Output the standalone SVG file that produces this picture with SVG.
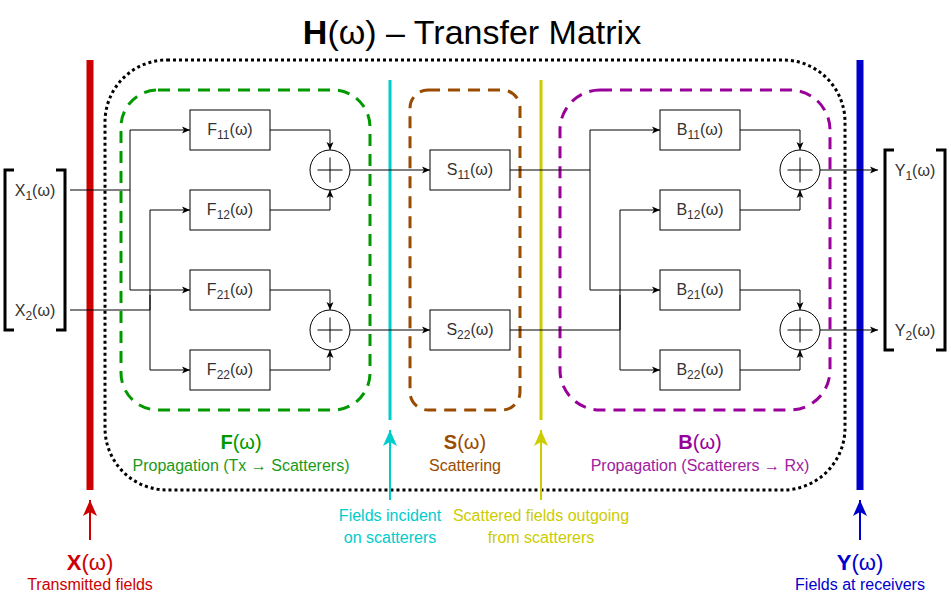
<svg xmlns="http://www.w3.org/2000/svg" width="951" height="601" viewBox="0 0 951 601">
<style>
text{font-family:"Liberation Sans",Arial,sans-serif}
.box{fill:#fff;stroke:#000;stroke-width:1}
.lbl{font-size:16px;fill:#333;text-anchor:middle}
.sub{font-size:12px}
.wire{fill:none;stroke:#000;stroke-width:1}
.arr{marker-end:url(#ah)}
.sum{fill:#fff;stroke:#000;stroke-width:1}
.grp{fill:none;stroke-width:3;stroke-dasharray:12 8}
.brk{fill:none;stroke:#000;stroke-width:3}
.t1{font-size:20px;text-anchor:middle}
.t2{font-size:16px;text-anchor:middle}
.t3{font-size:22px;text-anchor:middle}
</style>
<defs>
<marker id="ah" markerUnits="userSpaceOnUse" markerWidth="8" markerHeight="8" viewBox="0 0 8 8" refX="8" refY="4" orient="auto"><path d="M0,0.5 L8,4 L0,7.5 L2,4 z" fill="#000"/></marker>
<marker id="ar" markerUnits="userSpaceOnUse" markerWidth="16" markerHeight="14" viewBox="0 0 16 14" refX="16" refY="7" orient="auto"><path d="M0,0 L16,7 L0,14 L4,7 z" fill="#CC0000"/></marker>
<marker id="ac" markerUnits="userSpaceOnUse" markerWidth="16" markerHeight="14" viewBox="0 0 16 14" refX="16" refY="7" orient="auto"><path d="M0,0 L16,7 L0,14 L4,7 z" fill="#00CCCC"/></marker>
<marker id="ay" markerUnits="userSpaceOnUse" markerWidth="16" markerHeight="14" viewBox="0 0 16 14" refX="16" refY="7" orient="auto"><path d="M0,0 L16,7 L0,14 L4,7 z" fill="#CCCC00"/></marker>
<marker id="ab" markerUnits="userSpaceOnUse" markerWidth="16" markerHeight="14" viewBox="0 0 16 14" refX="16" refY="7" orient="auto"><path d="M0,0 L16,7 L0,14 L4,7 z" fill="#0000CC"/></marker>
</defs>
<rect width="951" height="601" fill="#fff"/>

<g id="title"><text x="472" y="44" font-size="34" text-anchor="middle" fill="#000"><tspan font-weight="bold">H</tspan>(ω) – Transfer Matrix</text></g>

<g id="H-container"><rect x="105" y="60" width="740" height="430" rx="62" fill="none" stroke="#000" stroke-width="3" stroke-dasharray="3 3"/></g>
<g id="F-group"><rect class="grp" x="121" y="90" width="249" height="320" rx="37" stroke="#009900"/>
<text class="t1" x="241" y="449" fill="#009900"><tspan font-weight="bold">F</tspan>(ω)</text>
<text class="t2" x="241" y="471" fill="#1a9a1a">Propagation (Tx → Scatterers)</text></g>
<g id="S-group"><rect class="grp" x="410" y="90" width="110" height="320" rx="18" stroke="#994C00"/>
<text class="t1" x="465" y="449" fill="#994C00"><tspan font-weight="bold">S</tspan>(ω)</text>
<text class="t2" x="465" y="471" fill="#994C00">Scattering</text></g>
<g id="B-group"><rect class="grp" x="560" y="90" width="270" height="320" rx="40" stroke="#990099"/>
<text class="t1" x="700" y="449" fill="#990099"><tspan font-weight="bold">B</tspan>(ω)</text>
<text class="t2" x="700" y="471" fill="#a020a0">Propagation (Scatterers → Rx)</text></g>

<g id="X-bar"><rect x="86.5" y="60" width="7" height="430" fill="#CC0000"/>
<text class="t3" x="90" y="570" fill="#CC0000"><tspan font-weight="bold">X</tspan>(ω)</text>
<text class="t2" x="90" y="590" fill="#CC0000">Transmitted fields</text></g>
<g id="Y-bar"><rect x="856.5" y="60" width="7" height="430" fill="#0000CC"/>
<text class="t3" x="860" y="570" fill="#0000CC"><tspan font-weight="bold">Y</tspan>(ω)</text>
<text class="t2" x="860" y="590" fill="#0000CC">Fields at receivers</text></g>
<g id="incident-plane"><line x1="390" y1="80" x2="390" y2="420" stroke="#00CCCC" stroke-width="3"/>
<text class="t2" x="390" y="521" fill="#00CCCC">Fields incident</text>
<text class="t2" x="390" y="543" fill="#00CCCC">on scatterers</text></g>
<g id="outgoing-plane"><line x1="541" y1="80" x2="541" y2="420" stroke="#CCCC00" stroke-width="3"/>
<text class="t2" x="541" y="521" fill="#CCCC00">Scattered fields outgoing</text>
<text class="t2" x="541" y="543" fill="#CCCC00">from scatterers</text></g>

<g id="X-vector"><path class="brk" d="M14,170 H5 V330 H14 M56,170 H65 V330 H56"/>
<text class="lbl" x="35" y="195.5">X<tspan class="sub" dy="4">1</tspan><tspan dy="-4">(ω)</tspan></text>
<text class="lbl" x="35" y="315.5">X<tspan class="sub" dy="4">2</tspan><tspan dy="-4">(ω)</tspan></text></g>
<g id="Y-vector"><path class="brk" d="M894,150 H885 V350 H894 M936,150 H945 V350 H936"/>
<text class="lbl" x="915" y="175.5">Y<tspan class="sub" dy="4">1</tspan><tspan dy="-4">(ω)</tspan></text>
<text class="lbl" x="915" y="335.5">Y<tspan class="sub" dy="4">2</tspan><tspan dy="-4">(ω)</tspan></text></g>

<g id="F11"><rect class="box" x="190" y="110" width="80" height="40"/><text class="lbl" x="230" y="135">F<tspan class="sub" dy="4">11</tspan><tspan dy="-4">(ω)</tspan></text></g>
<g id="F12"><rect class="box" x="190" y="190" width="80" height="40"/><text class="lbl" x="230" y="215">F<tspan class="sub" dy="4">12</tspan><tspan dy="-4">(ω)</tspan></text></g>
<g id="F21"><rect class="box" x="190" y="270" width="80" height="40"/><text class="lbl" x="230" y="295">F<tspan class="sub" dy="4">21</tspan><tspan dy="-4">(ω)</tspan></text></g>
<g id="F22"><rect class="box" x="190" y="350" width="80" height="40"/><text class="lbl" x="230" y="375">F<tspan class="sub" dy="4">22</tspan><tspan dy="-4">(ω)</tspan></text></g>
<g id="S11"><rect class="box" x="430" y="150" width="80" height="40"/><text class="lbl" x="470" y="175">S<tspan class="sub" dy="4">11</tspan><tspan dy="-4">(ω)</tspan></text></g>
<g id="S22"><rect class="box" x="430" y="310" width="80" height="40"/><text class="lbl" x="470" y="335">S<tspan class="sub" dy="4">22</tspan><tspan dy="-4">(ω)</tspan></text></g>
<g id="B11"><rect class="box" x="660" y="110" width="80" height="40"/><text class="lbl" x="700" y="135">B<tspan class="sub" dy="4">11</tspan><tspan dy="-4">(ω)</tspan></text></g>
<g id="B12"><rect class="box" x="660" y="190" width="80" height="40"/><text class="lbl" x="700" y="215">B<tspan class="sub" dy="4">12</tspan><tspan dy="-4">(ω)</tspan></text></g>
<g id="B21"><rect class="box" x="660" y="270" width="80" height="40"/><text class="lbl" x="700" y="295">B<tspan class="sub" dy="4">21</tspan><tspan dy="-4">(ω)</tspan></text></g>
<g id="B22"><rect class="box" x="660" y="350" width="80" height="40"/><text class="lbl" x="700" y="375">B<tspan class="sub" dy="4">22</tspan><tspan dy="-4">(ω)</tspan></text></g>

<g id="sumF1"><circle class="sum" cx="330" cy="170" r="20"/><path class="wire" d="M317.5,170 H342.5 M330,157.5 V182.5"/></g>
<g id="sumF2"><circle class="sum" cx="330" cy="330" r="20"/><path class="wire" d="M317.5,330 H342.5 M330,317.5 V342.5"/></g>
<g id="sumB1"><circle class="sum" cx="800" cy="170" r="20"/><path class="wire" d="M787.5,170 H812.5 M800,157.5 V182.5"/></g>
<g id="sumB2"><circle class="sum" cx="800" cy="330" r="20"/><path class="wire" d="M787.5,330 H812.5 M800,317.5 V342.5"/></g>

<g id="connectors">
<path class="wire" d="M70,190 H130"/>
<path class="wire arr" d="M130,190 V130 H190"/>
<path class="wire arr" d="M130,190 V290 H190"/>
<path class="wire" d="M70,310 H150"/>
<path class="wire arr" d="M150,310 V210 H190"/>
<path class="wire" d="M150,310 V295"/>
<path class="wire arr" d="M150,310 V370 H190"/>
<path class="wire arr" d="M270,130 H330 V150"/>
<path class="wire arr" d="M270,210 H330 V190"/>
<path class="wire arr" d="M270,290 H330 V310"/>
<path class="wire arr" d="M270,370 H330 V350"/>
<path class="wire arr" d="M350,170 H430"/>
<path class="wire arr" d="M350,330 H430"/>
<path class="wire" d="M510,170 H590"/>
<path class="wire arr" d="M590,170 V130 H660"/>
<path class="wire arr" d="M590,170 V290 H660"/>
<path class="wire" d="M510,330 H620"/>
<path class="wire arr" d="M620,330 V210 H660"/>
<path class="wire" d="M620,330 V295"/>
<path class="wire arr" d="M620,330 V370 H660"/>
<path class="wire arr" d="M740,130 H800 V150"/>
<path class="wire arr" d="M740,210 H800 V190"/>
<path class="wire arr" d="M740,290 H800 V310"/>
<path class="wire arr" d="M740,370 H800 V350"/>
<path class="wire arr" d="M820,170 H878"/>
<path class="wire arr" d="M820,330 H878"/>
<line x1="90" y1="540" x2="90" y2="500" stroke="#CC0000" stroke-width="2" marker-end="url(#ar)"/>
<line x1="390" y1="500" x2="390" y2="430" stroke="#00CCCC" stroke-width="2" marker-end="url(#ac)"/>
<line x1="541" y1="500" x2="541" y2="430" stroke="#CCCC00" stroke-width="2" marker-end="url(#ay)"/>
<line x1="860" y1="540" x2="860" y2="500" stroke="#0000CC" stroke-width="2" marker-end="url(#ab)"/>
</g>
</svg>
